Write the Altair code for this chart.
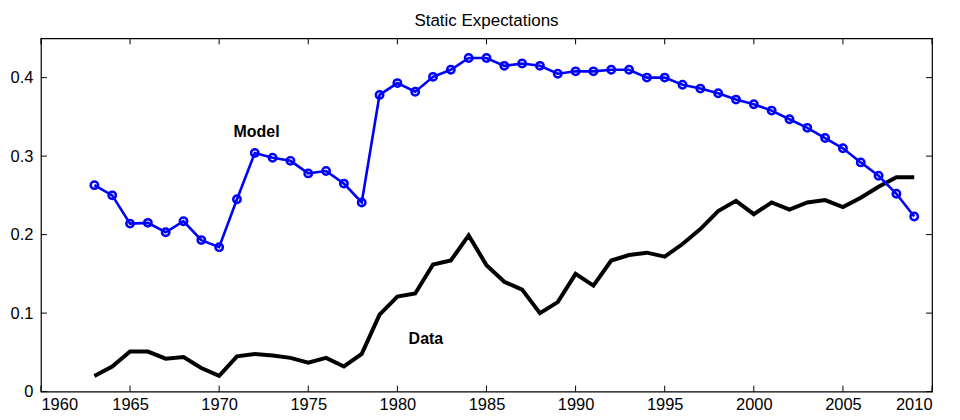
import altair as alt
import pandas as pd

years = list(range(1963, 2010))

model = [0.263, 0.250, 0.214, 0.215, 0.203, 0.217, 0.193, 0.184, 0.245, 0.304,
         0.298, 0.294, 0.278, 0.281, 0.265, 0.241, 0.378, 0.393, 0.382, 0.401,
         0.410, 0.425, 0.425, 0.415, 0.418, 0.415, 0.405, 0.408, 0.408, 0.410,
         0.410, 0.400, 0.400, 0.391, 0.386, 0.380, 0.372, 0.366, 0.358, 0.347,
         0.336, 0.323, 0.310, 0.292, 0.275, 0.252, 0.223]

data = [0.020, 0.032, 0.051, 0.051, 0.042, 0.044, 0.030, 0.020, 0.045, 0.048,
        0.046, 0.043, 0.037, 0.043, 0.032, 0.048, 0.098, 0.121, 0.125, 0.162,
        0.167, 0.199, 0.161, 0.140, 0.130, 0.100, 0.114, 0.150, 0.135, 0.167,
        0.174, 0.177, 0.172, 0.188, 0.207, 0.230, 0.243, 0.226, 0.241, 0.232,
        0.241, 0.244, 0.235, 0.247, 0.261, 0.273, 0.273]

x_ticks = [1960, 1965, 1970, 1975, 1980, 1985, 1990, 1995, 2000, 2005, 2010]
y_ticks = [0, 0.1, 0.2, 0.3, 0.4]

labels = ["Model", "Data"]
label_x = [1972.1, 1981.6]
label_y = [0.331, 0.067]

W, H = 893, 354
FONT = "Liberation Sans"

df = pd.DataFrame({"year": years, "model": model, "data": data})
xt = pd.DataFrame({"year": x_ticks})
yt = pd.DataFrame({"val": y_ticks})
lab = pd.DataFrame({"label": labels, "x": label_x, "y": label_y})

xs = alt.Scale(domain=[1960, 2010], nice=False, zero=False)
ys = alt.Scale(domain=[0, 0.45], nice=False)

xaxis = alt.Axis(values=x_ticks, format="d", ticks=False, domain=False, grid=False,
                 labelFontSize=16.5, labelFont=FONT, labelColor="black", labelPadding=5,
                 title=None, labelOverlap=False)
yaxis = alt.Axis(values=y_ticks, format=".1~f", ticks=False, domain=False, grid=False,
                 labelFontSize=16.5, labelFont=FONT, labelColor="black", labelPadding=8,
                 title=None, labelOverlap=False)

base = alt.Chart(df)

data_line = base.mark_line(color="black", strokeWidth=4, strokeJoin="miter").encode(
    x=alt.X("year:Q", scale=xs, axis=xaxis),
    y=alt.Y("data:Q", scale=ys, axis=yaxis),
)
model_line = base.mark_line(color="#0000ff", strokeWidth=2.6).encode(
    x=alt.X("year:Q", scale=xs),
    y=alt.Y("model:Q", scale=ys),
)
model_pts = base.mark_point(shape="circle", filled=False, color="#0000ff",
                            strokeWidth=2.5, size=55, opacity=1).encode(
    x=alt.X("year:Q", scale=xs),
    y=alt.Y("model:Q", scale=ys),
)

tick_bottom = alt.Chart(xt).mark_rule(color="black", strokeWidth=1).encode(
    x=alt.X("year:Q", scale=xs), y=alt.value(H), y2=alt.value(H - 6))
tick_top = alt.Chart(xt).mark_rule(color="black", strokeWidth=1).encode(
    x=alt.X("year:Q", scale=xs), y=alt.value(0), y2=alt.value(6))
tick_left = alt.Chart(yt).mark_rule(color="black", strokeWidth=1).encode(
    y=alt.Y("val:Q", scale=ys), x=alt.value(0), x2=alt.value(6))
tick_right = alt.Chart(yt).mark_rule(color="black", strokeWidth=1).encode(
    y=alt.Y("val:Q", scale=ys), x=alt.value(W), x2=alt.value(W - 6))

texts = alt.Chart(lab).mark_text(font=FONT, fontSize=16, fontWeight="bold",
                                 color="black", align="center", baseline="middle").encode(
    x=alt.X("x:Q", scale=xs), y=alt.Y("y:Q", scale=ys), text="label:N")

chart = alt.layer(
    data_line, model_line, model_pts, tick_bottom, tick_top, tick_left, tick_right, texts
).properties(
    width=W, height=H,
    title=alt.TitleParams("Static Expectations", font=FONT, fontSize=17,
                          fontWeight="normal", color="black", anchor="middle", offset=8),
    autosize=alt.AutoSizeParams(type="none"),
    padding={"left": 33, "top": 30, "right": 20, "bottom": 20},
).configure_view(stroke="black", strokeWidth=1.2)

chart.save("out.html", embed_options={"renderer": "svg", "actions": False})
